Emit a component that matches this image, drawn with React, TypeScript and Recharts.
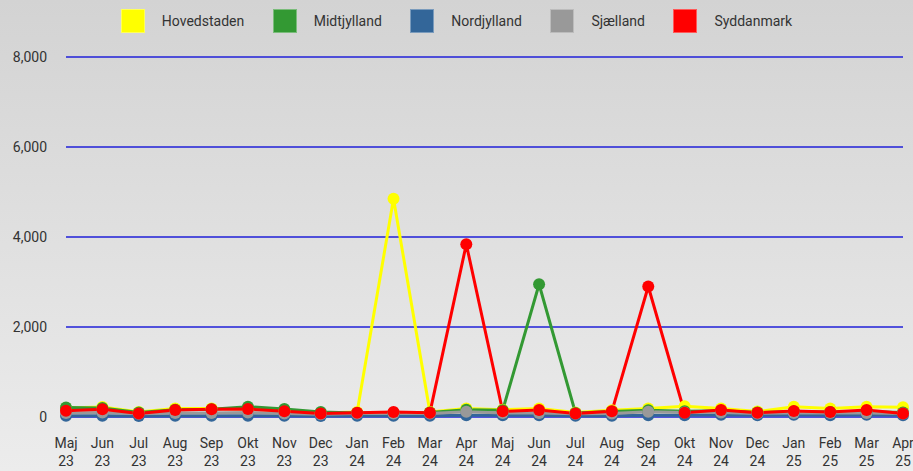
import React from "react";
import { LineChart, Line, XAxis, YAxis, CartesianGrid } from "recharts";

const months = ["Maj 23", "Jun 23", "Jul 23", "Aug 23", "Sep 23", "Okt 23", "Nov 23", "Dec 23", "Jan 24", "Feb 24", "Mar 24", "Apr 24", "Maj 24", "Jun 24", "Jul 24", "Aug 24", "Sep 24", "Okt 24", "Nov 24", "Dec 24", "Jan 25", "Feb 25", "Mar 25", "Apr 25"];

const hovedstaden = [200, 220, 110, 190, 190, 180, 140, 90, 110, 4850, 110, 190, 160, 190, 100, 150, 190, 240, 190, 120, 230, 190, 230, 215];
const midtjylland = [210, 200, 100, 160, 170, 230, 180, 110, 90, 90, 100, 160, 150, 2950, 90, 120, 150, 130, 140, 100, 120, 110, 120, 100];
const nordjylland = [30, 30, 20, 30, 30, 30, 30, 20, 30, 30, 30, 40, 40, 40, 30, 30, 40, 40, 50, 40, 50, 40, 50, 40];
const sjaelland = [90, 100, 70, 90, 90, 100, 80, 60, 80, 80, 80, 118, 90, 90, 70, 80, 118, 100, 100, 80, 90, 90, 90, 80];
const syddanmark = [140, 170, 80, 155, 170, 178, 126, 80, 96, 110, 96, 3840, 126, 155, 80, 126, 2900, 95, 155, 96, 133, 110, 155, 80];

const yTicks = [0, 2000, 4000, 6000, 8000];

const series = [
  { key: "Hovedstaden", values: hovedstaden, color: "#ffff00" },
  { key: "Midtjylland", values: midtjylland, color: "#339933" },
  { key: "Nordjylland", values: nordjylland, color: "#336699" },
  { key: "Sjælland", values: sjaelland, color: "#999999" },
  { key: "Syddanmark", values: syddanmark, color: "#ff0000" },
];

const data = months.map((m, i) => {
  const row: any = { m };
  series.forEach((s) => (row[s.key] = s.values[i]));
  return row;
});

const FONT = "Roboto, 'Noto Sans', sans-serif";

const XTick = (props: any) => {
  const { x, y, payload } = props;
  const [a, b] = String(payload.value).split(" ");
  return (
    <text x={x} y={y} textAnchor="middle" fill="#333" fontSize={14} fontFamily={FONT}>
      <tspan x={x} dy={23}>{a}</tspan>
      <tspan x={x} dy={18}>{b}</tspan>
    </text>
  );
};

export default function App() {
  return (
    <div
      style={{
        position: "absolute",
        left: 0,
        top: 0,
        width: 913,
        height: 471,
        background: "linear-gradient(#d3d3d3, #ececec)",
        fontFamily: FONT,
      }}
    >
      <div
        style={{
          position: "absolute",
          top: 9,
          left: 0,
          width: 913,
          display: "flex",
          justifyContent: "center",
          gap: 28.5,
          fontSize: 14,
          color: "#333",
        }}
      >
        {series.map((s) => (
          <div key={s.key} style={{ display: "flex", alignItems: "center", gap: 17, height: 24 }}>
            <div style={{ width: 24, height: 24, background: s.color, boxSizing: "border-box", border: "1px solid rgba(255,255,255,0.35)" }} />
            <span>{s.key}</span>
          </div>
        ))}
      </div>
      <LineChart
        width={913}
        height={471}
        data={data}
        margin={{ top: 57, right: 10, bottom: 14, left: 0 }}
        style={{ fontFamily: FONT }}
      >
        <CartesianGrid vertical={false} stroke="#2020d8" strokeWidth={1.5} />
        <XAxis
          dataKey="m"
          interval={0}
          axisLine={false}
          tickLine={false}
          height={40}
          tick={<XTick />}
          padding={{ left: 0, right: 0 }}
        />
        <YAxis
          width={66}
          domain={[0, 8000]}
          ticks={yTicks}
          axisLine={false}
          tickLine={false}
          tickMargin={13}
          tick={{ fill: "#333", fontSize: 14, fontFamily: FONT }}
          tickFormatter={(v: number) => v.toLocaleString("en-US")}
        />
        {series.map((s) => (
          <Line
            key={s.key}
            type="linear"
            dataKey={s.key}
            stroke={s.color}
            strokeWidth={3}
            dot={{ r: 6, fill: s.color, stroke: s.color, strokeWidth: 0 }}
            activeDot={false}
            isAnimationActive={false}
          />
        ))}
      </LineChart>
    </div>
  );
}
